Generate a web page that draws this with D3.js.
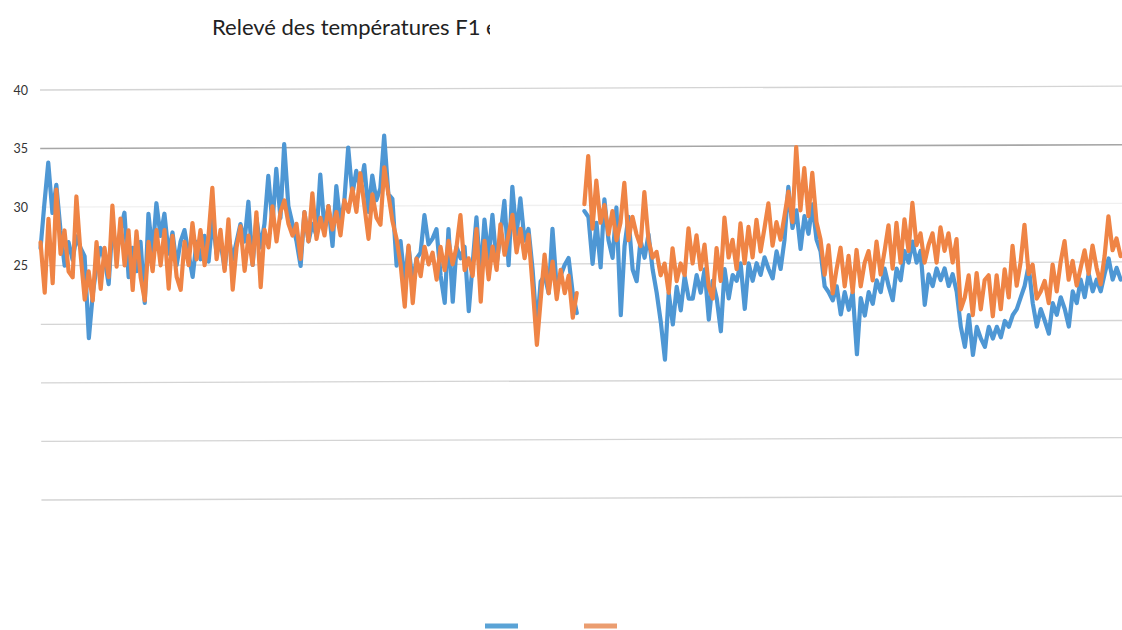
<!DOCTYPE html>
<html>
<head>
<meta charset="utf-8">
<script src="https://cdn.jsdelivr.net/npm/d3@7"></script>
<style>
  body { margin: 0; background: #fff; }
  text { font-family: Lato, 'Open Sans', sans-serif; }
</style>
</head>
<body>
<div id="chart"></div>
<script>
// Title of the scanned chart (cut off on the right in the scan)
const title = 'Relevé des températures F1 et'

// Gridlines and the tick labels that survived the scan
const gridValues = [5, 10, 15, 20, 25, 30, 35, 40]
const tickLabels = [25, 30, 35, 40]

// Readings, one every step; null marks the break in recording
const blue = [
  26.5, 30.3, 33.8, 29.5, 31.9, 28.0, 25.0, 27.0, 25.5, 27.5,
  26.5, 25.8, 18.8, 22.5, 25.0, 26.5, 25.5, 23.4, 28.5, 26.0,
  28.0, 29.5, 24.0, 26.5, 24.5, 27.0, 21.8, 29.4, 26.0, 30.3,
  27.5, 29.4, 26.0, 27.8, 25.0, 27.0, 28.0, 26.0, 24.0, 27.0,
  25.5, 27.5, 25.3, 29.0, 26.0, 27.0, 24.7, 27.5, 25.5, 27.0,
  28.5, 27.0, 30.4, 25.0, 29.0, 26.5, 28.5, 32.6, 28.5, 33.2,
  29.0, 35.3, 30.0, 28.5, 27.0, 24.9, 29.5, 27.0, 28.5, 27.5,
  32.7, 28.0, 30.0, 26.6, 31.7, 28.5, 30.5, 35.0, 31.0, 33.0,
  31.5, 33.5, 29.5, 32.6, 30.5, 31.5, 36.0, 31.0, 30.6, 24.9,
  27.0, 23.5, 26.5, 23.5, 25.5, 26.0, 29.2, 26.7, 27.2, 28.0,
  24.0, 21.7, 28.0, 21.8, 26.5, 25.5, 26.5, 21.0, 25.0, 29.0,
  24.0, 28.8, 25.5, 29.2, 25.0, 27.5, 30.4, 24.9, 31.6, 27.5,
  30.6, 27.0, 28.0, 24.5, 19.5, 23.5, 24.0, 22.5, 28.0, 23.0,
  24.0, 24.9, 25.5, 22.5, 20.8, null, 29.5, 29.0, 25.0, 28.5,
  24.7, 30.5, 27.0, 25.5, 29.8, 20.6, 26.5, 29.0, 24.5, 23.5,
  27.0, 25.5, 27.5, 24.5, 22.5, 20.0, 16.8, 22.5, 19.8, 23.0,
  21.0, 23.9, 22.0, 22.0, 24.0, 22.5, 24.5, 20.2, 23.5, 22.0,
  19.2, 24.5, 22.0, 24.0, 23.5, 25.0, 21.1, 25.0, 23.5, 25.0,
  24.0, 25.5, 24.5, 23.7, 26.0, 24.5, 27.0, 31.5, 28.0, 29.5,
  26.2, 29.0, 27.5, 30.0, 27.0, 26.0, 23.0, 22.5, 21.8, 23.0,
  20.6, 22.5, 21.0, 22.5, 17.2, 22.0, 20.5, 22.5, 21.5, 23.5,
  22.5, 24.5, 23.0, 21.8, 24.5, 23.5, 26.0, 25.0, 26.8, 25.0,
  26.0, 21.4, 24.0, 23.0, 24.5, 23.5, 24.5, 23.0, 24.0, 22.5,
  19.5, 17.8, 20.5, 17.1, 19.5, 18.5, 17.8, 19.5, 18.5, 19.5,
  18.6, 20.0, 19.5, 20.5, 21.0, 22.0, 23.0, 24.7, 21.5, 19.5,
  21.0, 20.0, 18.9, 21.5, 20.5, 22.0, 21.0, 19.5, 22.5, 21.5,
  23.5, 22.0, 24.0, 22.5, 23.5, 22.5, 24.0, 25.3, 23.5, 24.5,
  23.5
]

const orange = [
  27.0, 22.7, 29.0, 23.5, 31.5, 26.0, 28.0, 24.5, 24.0, 30.9,
  26.0, 22.1, 24.5, 22.0, 27.0, 23.0, 26.5, 24.0, 30.1, 24.9,
  29.0, 25.0, 28.0, 22.9, 27.9, 24.0, 22.0, 27.0, 24.5, 28.0,
  25.0, 28.0, 23.0, 27.5, 24.0, 22.9, 27.0, 25.0, 28.6, 25.5,
  28.0, 25.0, 27.5, 31.6, 25.5, 28.0, 24.5, 28.9, 22.9, 26.5,
  28.3, 24.5, 27.5, 25.0, 29.5, 23.1, 28.0, 26.5, 30.0, 27.0,
  29.5, 30.5, 28.5, 27.5, 28.5, 25.5, 29.5, 27.0, 31.1, 27.2,
  29.0, 27.5, 30.0, 28.0, 29.5, 27.5, 30.5, 29.5, 31.5, 29.5,
  32.8, 30.0, 27.2, 31.0, 29.0, 28.4, 33.3, 31.0, 28.7, 27.2,
  25.0, 21.4, 26.6, 21.7, 25.5, 24.0, 26.5, 25.0, 26.0, 23.7,
  26.5, 24.5, 27.0, 25.0, 26.5, 29.2, 24.5, 25.5, 24.0, 28.0,
  21.8, 27.0, 23.7, 26.5, 24.5, 28.4, 25.8, 27.5, 29.2, 26.0,
  28.0, 25.5, 27.5, 23.0, 18.1, 22.0, 25.8, 22.5, 25.2, 22.0,
  24.5, 22.5, 24.0, 20.4, 22.5, null, 30.1, 34.2, 28.0, 32.1,
  28.5, 30.0, 27.5, 29.5, 27.0, 28.5, 31.9, 27.0, 29.0, 27.5,
  26.5, 31.1, 27.0, 25.5, 26.0, 24.0, 25.0, 22.5, 26.3, 23.5,
  25.0, 24.0, 28.0, 25.0, 27.4, 24.5, 26.6, 23.0, 22.0, 26.3,
  23.5, 28.9, 25.5, 27.0, 24.5, 28.4, 25.0, 28.1, 25.5, 28.7,
  26.0, 28.0, 30.1, 26.5, 28.5, 27.0, 29.0, 31.1, 28.5, 34.9,
  29.5, 33.1, 29.0, 32.7, 28.5, 27.0, 24.0, 26.5, 22.4, 24.5,
  26.3, 23.0, 25.6, 22.5, 26.1, 23.0, 25.0, 26.0, 23.5, 26.8,
  24.0, 26.0, 28.2, 24.5, 28.4, 25.0, 28.7, 26.0, 30.1, 26.5,
  27.5, 25.0, 26.5, 27.5, 25.0, 28.0, 26.0, 27.5, 25.0, 27.0,
  21.0, 22.0, 23.9, 20.5, 24.1, 21.0, 23.5, 23.9, 20.4, 23.9,
  21.0, 24.4, 22.0, 26.4, 23.0, 25.0, 28.2, 24.0, 24.8, 21.9,
  22.5, 23.4, 21.5, 24.8, 22.5, 25.0, 26.8, 23.5, 25.1, 23.0,
  24.5, 26.0, 24.0, 26.4, 24.5, 23.1, 25.5, 28.9, 26.0, 27.0,
  25.5
]

const width = 1122
const height = 630

// Plot area, as measured on the scan
const left = 40
const right = 1122

const svg = d3.select('#chart')
  .append('svg')
  .attr('width', width)
  .attr('height', height)

svg.append('rect')
  .attr('width', width)
  .attr('height', height)
  .attr('fill', '#fff')

// The scan is tilted a little, so tilt the whole plot with it
const plot = svg.append('g')
  .attr('transform', `rotate(-0.2, ${left}, 90)`)

const x = d3.scaleLinear()
  .domain([0, blue.length - 1])
  .range([left, 1120])

const y = d3.scaleLinear()
  .domain([5, 40])
  .range([500, 90])

// Gridlines, some came out darker or fainter on the scan
const gridColor = v => v === 35 ? '#a6a6a6' : v === 30 ? '#f0f0f0' : '#d4d4d4'

plot.append('g')
  .selectAll('line')
  .data(gridValues)
  .enter()
  .append('line')
  .attr('x1', left)
  .attr('x2', right + 10)
  .attr('y1', d => y(d))
  .attr('y2', d => y(d))
  .attr('stroke', gridColor)
  .attr('stroke-width', d => d === 35 ? 1.6 : 1.3)

// Y axis labels
const yAxis = d3.axisLeft(y)
  .tickValues(tickLabels)
  .tickSize(0)
  .tickPadding(0)

svg.append('g')
  .attr('transform', 'translate(28, 0)')
  .call(yAxis)
  .call(g => g.select('.domain').remove())
  .call(g => g.selectAll('text')
    .attr('font-size', 12.5)
    .attr('font-family', 'Lato, sans-serif')
    .attr('fill', '#333'))

// Lines
const line = d3.line()
  .defined(d => d != null)
  .x((d, i) => x(i))
  .y(d => y(d))
  .curve(d3.curveLinear)

const series = [
  { values: blue, color: '#4e97d4' },
  { values: orange, color: '#ef8445' }
]

plot.append('g')
  .selectAll('path')
  .data(series)
  .enter()
  .append('path')
  .attr('d', d => line(d.values))
  .attr('fill', 'none')
  .attr('stroke', d => d.color)
  .attr('stroke-width', 4.2)
  .attr('stroke-linejoin', 'round')
  .attr('stroke-linecap', 'round')

// Title, clipped where the scan cuts it off
svg.append('clipPath')
  .attr('id', 'title-clip')
  .append('rect')
  .attr('x', 0)
  .attr('y', 0)
  .attr('width', 490)
  .attr('height', 60)

svg.append('text')
  .attr('x', 212)
  .attr('y', 35)
  .attr('font-size', 22)
  .attr('fill', '#222')
  .attr('clip-path', 'url(#title-clip)')
  .text(title)

// Legend swatches (their labels did not survive the scan)
svg.append('g')
  .selectAll('line')
  .data(series)
  .enter()
  .append('line')
  .attr('x1', (d, i) => 485 + i * 99)
  .attr('x2', (d, i) => 518 + i * 99)
  .attr('y1', 626)
  .attr('y2', 626)
  .attr('stroke', (d, i) => i === 0 ? '#5aa3d6' : '#eb9d70')
  .attr('stroke-width', 5)
</script>
</body>
</html>
